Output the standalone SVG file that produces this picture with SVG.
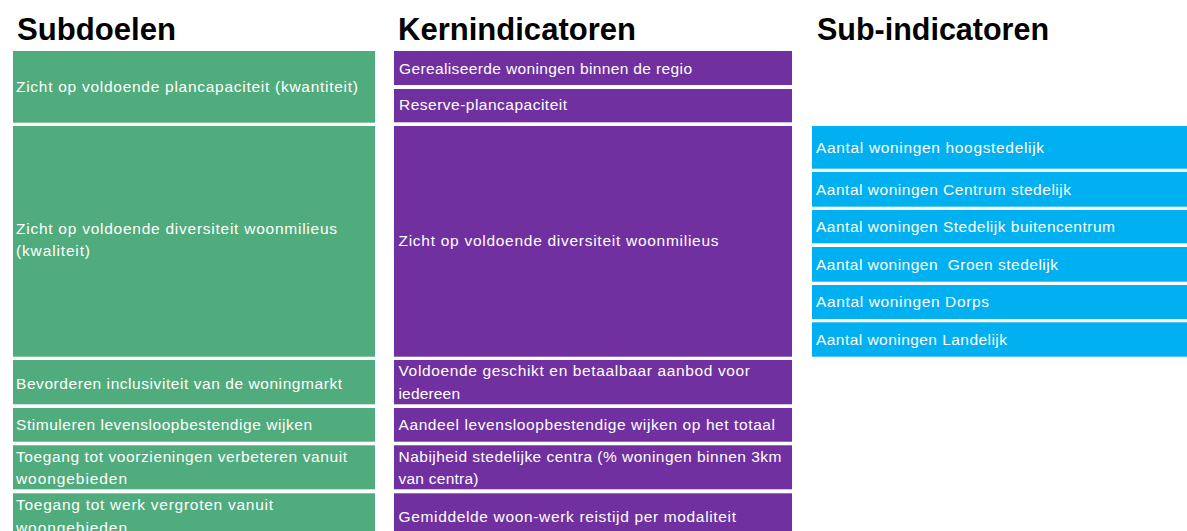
<svg xmlns="http://www.w3.org/2000/svg" width="1187" height="531" viewBox="0 0 1187 531">
<style>
.h{font-family:"Liberation Sans",Arial,sans-serif;font-weight:bold;font-size:31px;fill:#000}
.t{font-family:"Liberation Sans",Arial,sans-serif;font-size:15.5px;fill:#fff}
.g{fill:#50AC7C}
.p{fill:#7030A0}
.b{fill:#00B0F0}
</style>
<rect width="1187" height="531" fill="#fff"/>
<g id="headers">
<text class="h" x="17" y="40" textLength="159" lengthAdjust="spacingAndGlyphs">Subdoelen</text>
<text class="h" x="398" y="40" textLength="238" lengthAdjust="spacingAndGlyphs">Kernindicatoren</text>
<text class="h" x="817" y="40" textLength="232" lengthAdjust="spacingAndGlyphs">Sub-indicatoren</text>
</g>
<g id="subdoel1"><rect class="g" x="13" y="51" width="362" height="71.7"/><text class="t" x="16" y="92" textLength="342" lengthAdjust="spacing">Zicht op voldoende plancapaciteit (kwantiteit)</text></g>
<g id="subdoel2"><rect class="g" x="13" y="126" width="362" height="230.7"/><text class="t" x="16" y="233.5" textLength="321" lengthAdjust="spacing">Zicht op voldoende diversiteit woonmilieus</text><text class="t" x="16" y="256" textLength="74" lengthAdjust="spacing">(kwaliteit)</text></g>
<g id="subdoel3"><rect class="g" x="13" y="360" width="362" height="44.3"/><text class="t" x="16" y="388.5" textLength="326" lengthAdjust="spacing">Bevorderen inclusiviteit van de woningmarkt</text></g>
<g id="subdoel4"><rect class="g" x="13" y="408" width="362" height="33.7"/><text class="t" x="16" y="430" textLength="296" lengthAdjust="spacing">Stimuleren levensloopbestendige wijken</text></g>
<g id="subdoel5"><rect class="g" x="13" y="445.3" width="362" height="44"/><text class="t" x="16" y="461.5" textLength="331" lengthAdjust="spacing">Toegang tot voorzieningen verbeteren vanuit</text><text class="t" x="16" y="484" textLength="111" lengthAdjust="spacing">woongebieden</text></g>
<g id="subdoel6"><rect class="g" x="13" y="493.3" width="362" height="40"/><text class="t" x="16" y="510" textLength="257" lengthAdjust="spacing">Toegang tot werk vergroten vanuit</text><text class="t" x="16" y="532.5" textLength="111" lengthAdjust="spacing">woongebieden</text></g>
<g id="kern1"><rect class="p" x="394" y="51" width="398" height="34"/><text class="t" x="399" y="73.5" textLength="293" lengthAdjust="spacing">Gerealiseerde woningen binnen de regio</text></g>
<g id="kern2"><rect class="p" x="394" y="89" width="398" height="33.3"/><text class="t" x="399" y="110" textLength="168" lengthAdjust="spacing">Reserve-plancapaciteit</text></g>
<g id="kern3"><rect class="p" x="394" y="126" width="398" height="230.7"/><text class="t" x="398.5" y="246" textLength="320" lengthAdjust="spacing">Zicht op voldoende diversiteit woonmilieus</text></g>
<g id="kern4"><rect class="p" x="394" y="360" width="398" height="44.3"/><text class="t" x="398.5" y="376" textLength="351.5" lengthAdjust="spacing">Voldoende geschikt en betaalbaar aanbod voor</text><text class="t" x="398.5" y="399" textLength="61.5" lengthAdjust="spacing">iedereen</text></g>
<g id="kern5"><rect class="p" x="394" y="408" width="398" height="33.7"/><text class="t" x="398.5" y="430" textLength="376.5" lengthAdjust="spacing">Aandeel levensloopbestendige wijken op het totaal</text></g>
<g id="kern6"><rect class="p" x="394" y="445.3" width="398" height="44"/><text class="t" x="398.5" y="461.5" textLength="383" lengthAdjust="spacing">Nabijheid stedelijke centra (% woningen binnen 3km</text><text class="t" x="398.5" y="484" textLength="80" lengthAdjust="spacing">van centra)</text></g>
<g id="kern7"><rect class="p" x="394" y="493.3" width="398" height="40"/><text class="t" x="398.5" y="521.5" textLength="337.5" lengthAdjust="spacing">Gemiddelde woon-werk reistijd per modaliteit</text></g>
<g id="sub1"><rect class="b" x="812" y="126" width="375" height="42.7"/><text class="t" x="816" y="152.5" textLength="228" lengthAdjust="spacing">Aantal woningen hoogstedelijk</text></g>
<g id="sub2"><rect class="b" x="812" y="172" width="375" height="34.7"/><text class="t" x="816" y="195" textLength="255" lengthAdjust="spacing">Aantal woningen Centrum stedelijk</text></g>
<g id="sub3"><rect class="b" x="812" y="210" width="375" height="33.3"/><text class="t" x="816" y="231.5" textLength="299" lengthAdjust="spacing">Aantal woningen Stedelijk buitencentrum</text></g>
<g id="sub4"><rect class="b" x="812" y="247" width="375" height="34.7"/><text class="t" x="816" y="270" textLength="242" lengthAdjust="spacing" xml:space="preserve">Aantal woningen  Groen stedelijk</text></g>
<g id="sub5"><rect class="b" x="812" y="285" width="375" height="34"/><text class="t" x="816" y="306.5" textLength="173" lengthAdjust="spacing">Aantal woningen Dorps</text></g>
<g id="sub6"><rect class="b" x="812" y="322.3" width="375" height="34.4"/><text class="t" x="816" y="344.5" textLength="191" lengthAdjust="spacing">Aantal woningen Landelijk</text></g>
<g id="connectors"></g>
</svg>
